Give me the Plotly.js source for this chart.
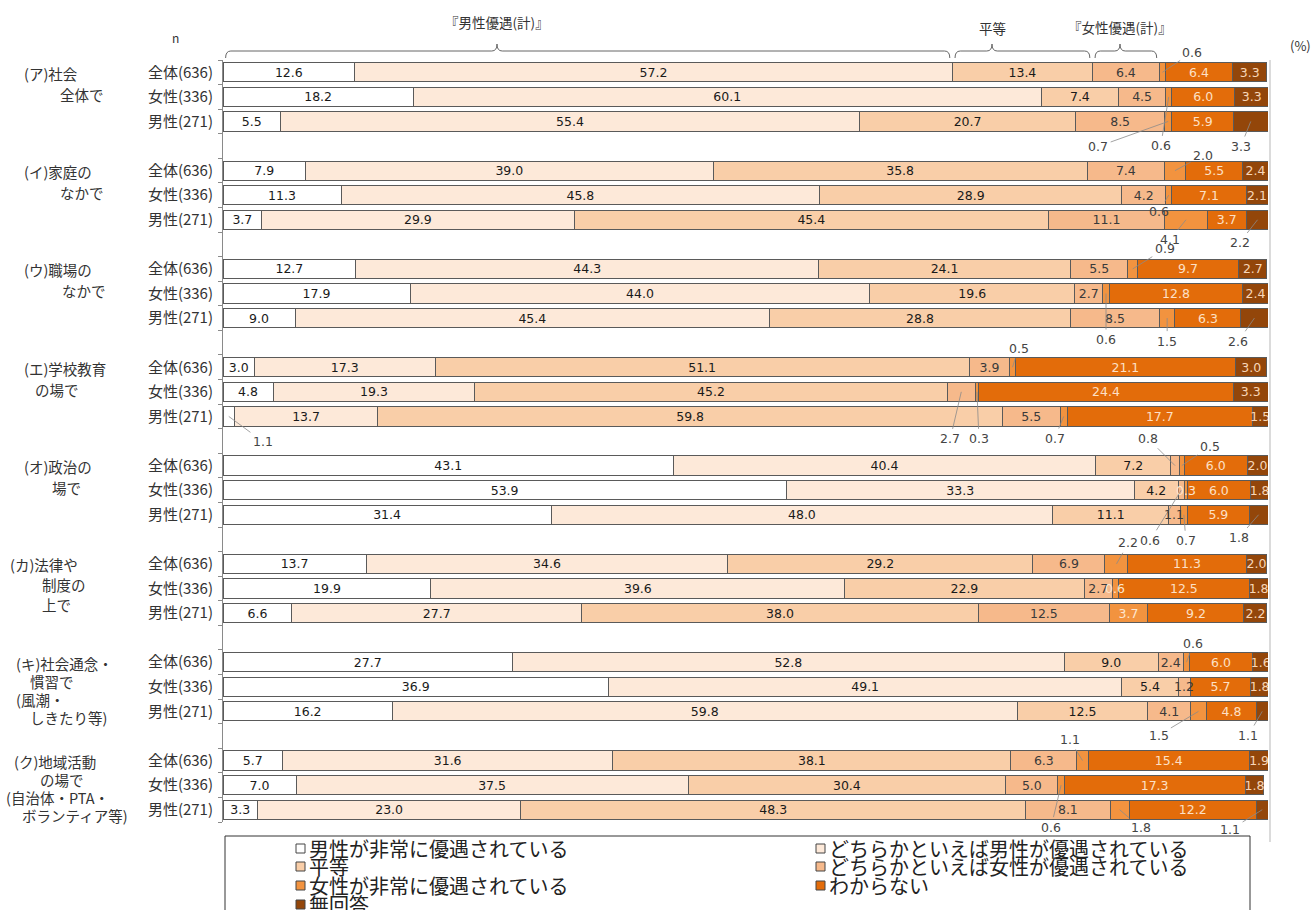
<!DOCTYPE html>
<html><head><meta charset="utf-8">
<script src="https://cdn.plot.ly/plotly-3.0.1.min.js"></script>
<style>html,body{margin:0;padding:0;background:#fff;}#chart{width:1314px;height:910px;}</style>
</head><body><div id="chart"></div>
<script>
// ---------------- data ----------------
const categoryNames = ['男性が非常に優遇されている','どちらかといえば男性が優遇されている','平等','どちらかといえば女性が優遇されている','女性が非常に優遇されている','わからない','無回答'];
const rowLabels = ['全体(636)','女性(336)','男性(271)'];
const groupLabels = [
  ['(ア)社会','全体で'],
  ['(イ)家庭の','なかで'],
  ['(ウ)職場の','なかで'],
  ['(エ)学校教育','の場で'],
  ['(オ)政治の','場で'],
  ['(カ)法律や','制度の','上で'],
  ['(キ)社会通念・','慣習で','(風潮・','しきたり等)'],
  ['(ク)地域活動','の場で','(自治体・PTA・','ボランティア等)']
];
// rows: ア全体, ア女性, ア男性, イ全体, ... ク男性
const menStrongly   = [12.6,18.2,5.5, 7.9,11.3,3.7, 12.7,17.9,6.9, 3.0,4.8,1.1, 43.1,53.9,31.4, 13.7,19.9,6.6, 27.7,36.9,16.2, 5.7,7.0,3.3];
const menSomewhat   = [57.2,60.1,55.4, 39.0,45.8,29.9, 44.3,44.0,45.4, 17.3,19.3,13.7, 40.4,33.3,48.0, 34.6,39.6,27.7, 52.8,49.1,59.8, 31.6,37.5,25.2];
const equal         = [13.4,7.4,20.7, 35.8,28.9,45.4, 24.1,19.6,28.8, 51.1,45.2,59.8, 7.2,4.2,11.1, 29.2,22.9,38.0, 9.0,5.4,12.5, 38.1,30.4,48.3];
const womenSomewhat = [6.4,4.5,8.5, 7.4,4.2,11.1, 5.5,2.7,8.5, 3.9,2.7,5.5, 0.8,0.6,1.1, 6.9,2.7,12.5, 2.4,1.2,4.1, 6.3,5.0,8.1];
const womenStrongly = [0.6,0.6,0.7, 2.0,0.6,4.1, 0.9,0.6,1.5, 0.5,0.3,0.7, 0.5,0.3,0.7, 2.2,0.6,3.7, 0.6,0.0,1.5, 1.1,0.6,1.8];
const dontKnow      = [6.4,6.0,5.9, 5.5,7.1,3.7, 9.7,12.8,6.3, 21.1,24.4,17.7, 6.0,6.0,5.9, 11.3,12.5,9.2, 6.0,5.7,4.8, 15.4,17.3,12.2];
const noAnswer      = [3.3,3.3,3.3, 2.4,2.1,2.2, 2.7,2.4,2.6, 3.0,3.3,1.5, 2.0,1.8,1.8, 2.0,1.8,2.2, 1.6,1.8,1.1, 1.9,1.8,1.1];
// labels printed in the source that differ from the drawn segment width: [row, category, printed text]
const printedLabelOverrides = [[8,0,'9.0'],[23,1,'23.0']];
const topLabels = ['『男性優遇(計)』','平等','『女性優遇(計)』'];

// ---------------- styles / layout helpers ----------------
const series = [menStrongly, menSomewhat, equal, womenSomewhat, womenStrongly, dontKnow, noAnswer];
const colors = ['#ffffff','#fde9d9','#f9cea8','#f6b98b','#f2933f','#e36c0a','#93460a'];
const textColors = ['#1a1a1a','#1a1a1a','#1a1a1a','#3a3a3a','#fde6d0','#fde0c6','#f8d6b8'];
const JP = 'Noto Sans CJK JP, sans-serif';
const NUM = 'DejaVu Sans, sans-serif';
const W = 1314, H = 910, ML = 223, MR = 46, MT = 60, MB = 88;
const PW = W - ML - MR, PH = H - MT - MB;
const px2x = p => (p - ML) / PW;
const py2y = p => (H - MB - p) / PH;

const nRows = menStrongly.length;
const yPos = [], yText = [];
for (let k = 0; k < nRows; k++) { yPos.push(Math.floor(k/3)*4 + k%3); yText.push(rowLabels[k%3]); }

// segments labelled outside with a leader: [row, category, dx, dy]
const outside = [
  [0,4,30,-20],[1,4,-8,49],[2,4,-70,25],[2,6,-10,25],
  [3,4,28,-15],[4,4,-10,16],[5,4,-16,20],[5,6,-18,23],
  [6,4,32,-20],[7,4,0,46],[8,4,0,23],[8,6,-16,23],
  [9,4,6,-19],[10,3,-11,47],[10,4,2,47],[11,0,34,25],[11,4,-9,22],
  [12,3,-27,-27],[12,4,28,-19],[13,3,-31,50],[14,4,2,26],[14,6,-20,23],
  [15,4,12,-21],[18,4,7,-19],[20,4,-40,24],[20,6,-14,24],
  [21,4,-13,-21],[22,4,-10,42],[23,4,21,18],[23,6,-32,20]
];
// very thin segments whose label is printed over the segment: [row, category]
const overlay = [[13,4],[14,3],[16,4],[19,3]];
const inList = (lst,r,c) => lst.some(o => o[0]===r && o[1]===c);
const labelOf = (r,c) => {
  const ov = printedLabelOverrides.find(o => o[0]===r && o[1]===c);
  return ov ? ov[2] : series[c][r].toFixed(1);
};

const traces = series.map((vals, c) => ({
  type: 'bar', orientation: 'h', name: categoryNames[c],
  x: vals, y: yPos, width: 0.78,
  marker: {color: colors[c], line: {color: '#5a5a5a', width: 1}},
  text: vals.map((v, r) => (v <= 0 || inList(outside,r,c) || inList(overlay,r,c)) ? '' : labelOf(r,c)),
  textposition: 'inside', insidetextanchor: 'middle', textangle: 0,
  textfont: {family: NUM, size: 12.5, color: textColors[c]},
  hoverinfo: 'skip', showlegend: false
}));

const cumStart = (r, c) => { let s = 0; for (let j = 0; j < c; j++) s += series[j][r]; return s; };

const annotations = [];
const shapes = [];
outside.forEach(([r,c,dx,dy]) => {
  annotations.push({x: cumStart(r,c) + series[c][r]/2, y: yPos[r], xref:'x', yref:'y',
    text: labelOf(r,c), showarrow: true, arrowhead: 0, arrowwidth: 0.8, arrowcolor: '#8a8a8a',
    ax: dx, ay: dy, standoff: 0, startstandoff: 1,
    font: {family: NUM, size: 12.5, color: '#444'}});
});
overlay.forEach(([r,c]) => {
  annotations.push({x: cumStart(r,c) + series[c][r]/2, y: yPos[r], xref:'x', yref:'y',
    text: labelOf(r,c), showarrow: false, xanchor:'center', yanchor:'middle',
    font: {family: NUM, size: 12.5, color: c >= 4 ? '#fde6d0' : '#3a3a3a'}});
});
// group labels (left)
const groupLineX = [[22,58],[22,58],[22,60],[22,33],[22,50],[8,40,40],[14,28,14,28],[12,38,4,20]];
const groupLineGap = [21,21,21,21,21,20,18,18];
groupLabels.forEach((lines, g) => {
  const firstPy = MT + (g*4 + 0.5) * (PH/31) + 1;
  lines.forEach((t, i) => annotations.push({
    xref:'paper', yref:'paper', x: px2x(groupLineX[g][i]), y: py2y(firstPy + i*groupLineGap[g]),
    xanchor:'left', yanchor:'middle', showarrow:false, text: t,
    font:{family: JP, size: 14.5, color:'#333'}}));
});
// header labels + braces computed from the first row (ア 全体)
const b0 = 0, b1 = menStrongly[0] + menSomewhat[0], b2 = b1 + equal[0], b3 = b2 + womenSomewhat[0];
const spans = [[b0,b1,497],[b1,b2,992],[b2,b3,1120]];
const topY = [22,28,27];
spans.forEach(([s,e,peakPx], i) => {
  const pk = (peakPx - ML) / PW * 100;
  const yb = py2y(58), yt = py2y(51), yp = py2y(44), rr = 0.5;
  shapes.push({type:'path', xref:'x', yref:'paper', line:{color:'#666', width:1},
    path: `M${s+0.25},${yb} Q${s+0.25},${yt} ${s+0.25+rr},${yt} L${pk-rr},${yt} Q${pk},${yt} ${pk},${yp} Q${pk},${yt} ${pk+rr},${yt} L${e-0.25-rr},${yt} Q${e-0.25},${yt} ${e-0.25},${yb}`});
  annotations.push({xref:'paper', yref:'paper', x: px2x(peakPx), y: py2y(topY[i]), xanchor:'center', yanchor:'middle',
    showarrow:false, text: topLabels[i], font:{family: JP, size: 13.5, color:'#333'}});
});
annotations.push({xref:'paper', yref:'paper', x: px2x(175), y: py2y(38), xanchor:'center', yanchor:'middle', showarrow:false, text:'n', font:{family: JP, size: 12, color:'#333'}});
annotations.push({xref:'paper', yref:'paper', x: px2x(1300), y: py2y(45), xanchor:'center', yanchor:'middle', showarrow:false, text:'(%)', font:{family: JP, size: 13, color:'#333'}});
shapes.push({type:'line', xref:'paper', yref:'paper', x0: px2x(1270), x1: px2x(1270), y0: py2y(60), y1: py2y(842), line:{color:'#cfcfcf', width:1.5}});
// legend box and entries (two columns, row-major like the source)
shapes.push({type:'rect', xref:'paper', yref:'paper', x0: px2x(225), x1: px2x(1250), y0: py2y(836), y1: py2y(960), line:{color:'#333', width:1}, fillcolor:'rgba(0,0,0,0)'});
const legColX = [296, 816], legRowY = [848, 866, 885, 904];
categoryNames.forEach((nm, c) => {
  const col = c % 2, row = Math.floor(c / 2);
  const sx = legColX[col], sy = legRowY[row];
  shapes.push({type:'rect', xref:'paper', yref:'paper', x0: px2x(sx), x1: px2x(sx+9), y0: py2y(sy-4), y1: py2y(sy+5),
    fillcolor: colors[c], line:{color:'#444', width:1}});
  annotations.push({xref:'paper', yref:'paper', x: px2x(sx+11), y: py2y(sy), xanchor:'left', yanchor:'middle',
    showarrow:false, text: nm, font:{family: JP, size: 20, color:'#222'}});
});

const layout = {
  width: W, height: H,
  margin: {l: ML, r: MR, t: MT, b: MB, autoexpand: false},
  paper_bgcolor: '#fff', plot_bgcolor: '#fff',
  barmode: 'stack', showlegend: false,
  uniformtext: {minsize: 12.5, mode: 'show'},
  xaxis: {range: [0, 100], visible: false, fixedrange: true},
  yaxis: {range: [30.5, -0.5], tickvals: yPos, ticktext: yText, showline: true, linecolor: '#8a8a8a', linewidth: 1,
    ticks: '', showgrid: false, zeroline: false, ticklabelstandoff: 6,
    tickfont: {family: JP, size: 15, color: '#333'},
    minor: {tickmode: 'linear', tick0: -0.5, dtick: 1, ticks: 'outside', ticklen: 4, tickcolor: '#8a8a8a', showgrid: false}},
  annotations: annotations, shapes: shapes
};
Plotly.newPlot('chart', traces, layout, {displayModeBar: false, staticPlot: true});
</script></body></html>
